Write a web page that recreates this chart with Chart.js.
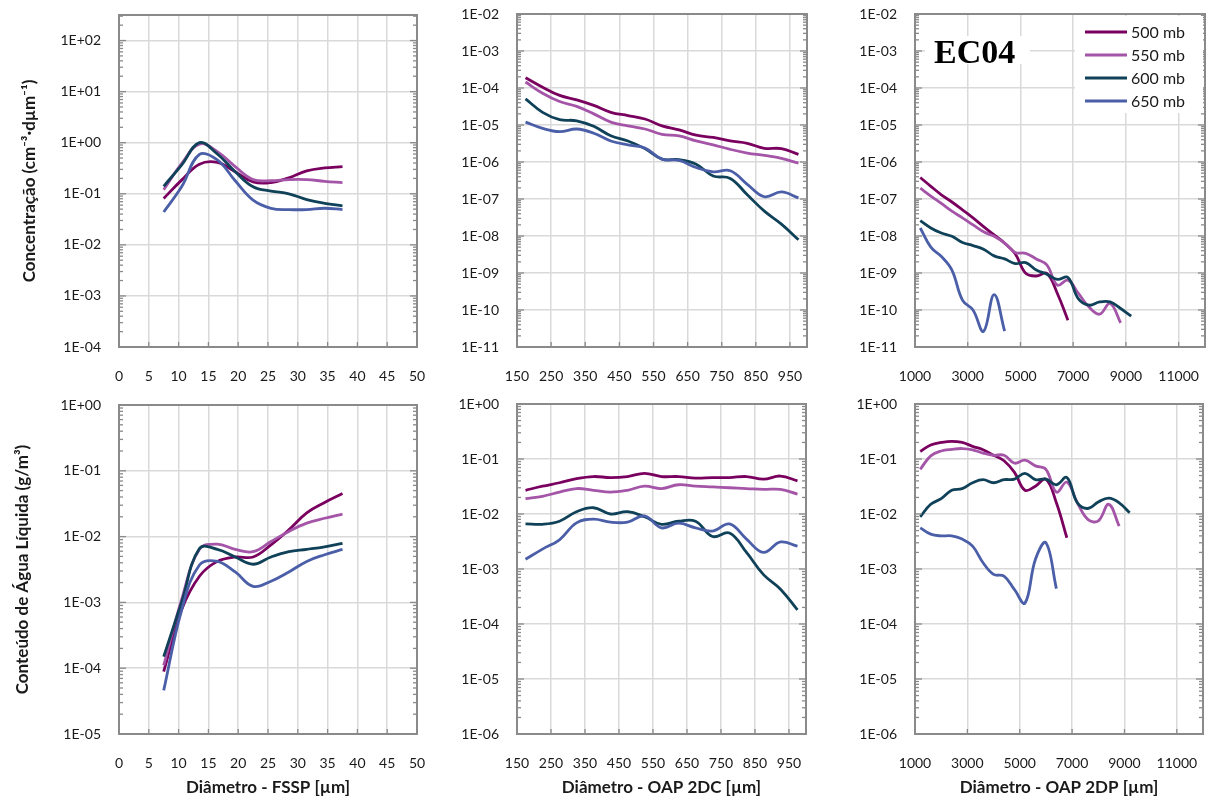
<!DOCTYPE html>
<html>
<head>
<meta charset="utf-8">
<script src="https://cdn.jsdelivr.net/npm/chart.js@4.4.1/dist/chart.umd.min.js"></script>
<style>
  body { margin: 0; background: #fff; width: 1213px; height: 800px; position: relative; overflow: hidden; }
  canvas { position: absolute; }
</style>
</head>
<body>
<canvas id="c1" width="430" height="395" style="left:0;top:0"></canvas>
<canvas id="c2" width="390" height="395" style="left:430px;top:0"></canvas>
<canvas id="c3" width="393" height="395" style="left:820px;top:0"></canvas>
<canvas id="c4" width="430" height="405" style="left:0;top:395px"></canvas>
<canvas id="c5" width="390" height="405" style="left:430px;top:395px"></canvas>
<canvas id="c6" width="393" height="405" style="left:820px;top:395px"></canvas>
<script>
// dados (EC04)
const pressureLabels = ['500 mb', '550 mb', '600 mb', '650 mb'];
const seriesColors = ['#7a0060', '#a455a8', '#0f4159', '#4b5ea8'];

// FSSP
const diamFSSP = [7.5, 10.5, 13.5, 16.5, 19.5, 22.5, 25.5, 28.5, 31.5, 34.5, 37.5];
const concFSSP500 = [0.081, 0.185, 0.38, 0.41, 0.27, 0.17, 0.165, 0.205, 0.28, 0.32, 0.34];
const concFSSP550 = [0.12, 0.39, 0.94, 0.67, 0.34, 0.19, 0.18, 0.19, 0.19, 0.175, 0.165];
const concFSSP600 = [0.14, 0.365, 1.0, 0.6, 0.27, 0.137, 0.113, 0.1, 0.077, 0.065, 0.058];
const concFSSP650 = [0.044, 0.137, 0.59, 0.46, 0.18, 0.075, 0.052, 0.049, 0.049, 0.052, 0.049];
const lwcFSSP500 = [8.9e-5, 7.7e-4, 2.5e-3, 4.2e-3, 4.9e-3, 4.9e-3, 7.5e-3, 1.27e-2, 2.3e-2, 3.3e-2, 4.5e-2];
const lwcFSSP550 = [1.1e-4, 1.1e-3, 6.4e-3, 7.7e-3, 6.4e-3, 5.9e-3, 8.4e-3, 1.2e-2, 1.6e-2, 1.9e-2, 2.2e-2];
const lwcFSSP600 = [1.5e-4, 1.0e-3, 6.6e-3, 6.4e-3, 4.9e-3, 3.8e-3, 4.9e-3, 5.9e-3, 6.4e-3, 7.0e-3, 7.9e-3];
const lwcFSSP650 = [4.6e-5, 7.6e-4, 3.7e-3, 4.2e-3, 2.9e-3, 1.75e-3, 2.1e-3, 2.9e-3, 4.2e-3, 5.3e-3, 6.4e-3];

// OAP 2DC
const diam2DC = [175, 225, 275, 325, 375, 425, 475, 525, 575, 625, 675, 725, 775, 825, 875, 925, 975];
const conc2DC500 = [1.9e-4, 1.05e-4, 6.3e-5, 4.8e-5, 3.4e-5, 2.2e-5, 1.8e-5, 1.45e-5, 9.5e-6, 7.4e-6, 5.3e-6, 4.6e-6, 3.7e-6, 3.2e-6, 2.35e-6, 2.3e-6, 1.6e-6];
const conc2DC550 = [1.45e-4, 7.2e-5, 4.3e-5, 3.2e-5, 2.0e-5, 1.2e-5, 9.5e-6, 7.8e-6, 5.6e-6, 5.1e-6, 3.7e-6, 2.9e-6, 2.2e-6, 1.75e-6, 1.5e-6, 1.25e-6, 9.3e-7];
const conc2DC600 = [5.1e-5, 2.2e-5, 1.4e-5, 1.3e-5, 9.2e-6, 5.1e-6, 3.7e-6, 2.3e-6, 1.2e-6, 1.15e-6, 8.7e-7, 4.2e-7, 3.6e-7, 1.3e-7, 4.7e-8, 2.1e-8, 7.9e-9];
const conc2DC650 = [1.2e-5, 8.1e-6, 6.6e-6, 7.8e-6, 6.0e-6, 3.7e-6, 2.9e-6, 2.4e-6, 1.2e-6, 1.1e-6, 7.1e-7, 5.4e-7, 5.8e-7, 2.5e-7, 1.15e-7, 1.55e-7, 1.07e-7];
const lwc2DC500 = [2.7e-2, 3.2e-2, 3.7e-2, 4.4e-2, 4.8e-2, 4.6e-2, 4.8e-2, 5.5e-2, 4.8e-2, 4.8e-2, 4.5e-2, 4.6e-2, 4.6e-2, 4.8e-2, 4.3e-2, 4.9e-2, 4.0e-2];
const lwc2DC550 = [1.9e-2, 2.1e-2, 2.5e-2, 2.9e-2, 2.7e-2, 2.5e-2, 2.7e-2, 3.2e-2, 2.9e-2, 3.4e-2, 3.2e-2, 3.1e-2, 3.0e-2, 2.9e-2, 2.8e-2, 2.8e-2, 2.3e-2];
const lwc2DC600 = [6.6e-3, 6.5e-3, 7.4e-3, 1.1e-2, 1.3e-2, 1.0e-2, 1.1e-2, 8.9e-3, 6.5e-3, 7.4e-3, 7.4e-3, 3.9e-3, 4.5e-3, 2.0e-3, 7.9e-4, 4.3e-4, 1.8e-4];
const lwc2DC650 = [1.5e-3, 2.3e-3, 3.4e-3, 6.9e-3, 8.1e-3, 7.1e-3, 7.1e-3, 9.2e-3, 5.6e-3, 6.8e-3, 5.6e-3, 4.9e-3, 6.6e-3, 3.5e-3, 2.0e-3, 3.1e-3, 2.6e-3];

// OAP 2DP (null = sem dado)
const diam2DP = [1200, 1600, 2000, 2400, 2800, 3200, 3600, 4000, 4400, 4800, 5200, 5600, 6000, 6400, 6800, 7200, 7600, 8000, 8400, 8800, 9200];
const conc2DP500 = [3.8e-7, 2.2e-7, 1.3e-7, 8.3e-8, 5.1e-8, 3.1e-8, 1.8e-8, 1.07e-8, 6.4e-9, 3.3e-9, 9.8e-10, 8.3e-10, 9.8e-10, 2.8e-10, 5.3e-11, null, null, null, null, null, null];
const conc2DP550 = [1.96e-7, 1.2e-7, 7.6e-8, 4.7e-8, 3.1e-8, 2.0e-8, 1.3e-8, 9.8e-9, 6.4e-9, 3.6e-9, 3.4e-9, 2.4e-9, 1.65e-9, 4.7e-10, 6.4e-10, 2.8e-10, 1.2e-10, 7.7e-11, 1.5e-10, 4.5e-11, null];
const conc2DP600 = [2.6e-8, 1.65e-8, 1.2e-8, 9.8e-9, 6.7e-9, 5.5e-9, 4.4e-9, 2.9e-9, 2.4e-9, 1.8e-9, 1.9e-9, 1.2e-9, 9.3e-10, 6.7e-10, 7.6e-10, 2.0e-10, 1.35e-10, 1.65e-10, 1.65e-10, 1.1e-10, 6.8e-11];
const conc2DP650 = [1.65e-8, 5.0e-9, 2.8e-9, 1.2e-9, 1.85e-10, 1.0e-10, 2.65e-11, 2.6e-10, 2.7e-11, null, null, null, null, null, null, null, null, null, null, null, null];
const lwc2DP500 = [0.137, 0.18, 0.2, 0.21, 0.2, 0.17, 0.147, 0.117, 0.093, 0.057, 0.027, 0.032, 0.043, 0.016, 0.0037, null, null, null, null, null, null];
const lwc2DP550 = [0.065, 0.114, 0.14, 0.15, 0.155, 0.147, 0.128, 0.117, 0.117, 0.084, 0.095, 0.075, 0.065, 0.025, 0.038, 0.016, 0.008, 0.0075, 0.015, 0.006, null];
const lwc2DP600 = [0.0089, 0.015, 0.019, 0.027, 0.029, 0.037, 0.042, 0.037, 0.042, 0.043, 0.055, 0.042, 0.043, 0.034, 0.046, 0.016, 0.0126, 0.0165, 0.0195, 0.016, 0.0105];
const lwc2DP650 = [0.0056, 0.0043, 0.004, 0.004, 0.0035, 0.0026, 0.0013, 8e-4, 7.4e-4, 4.2e-4, 2.4e-4, 1.5e-3, 3.0e-3, 4.4e-4, null, null, null, null, null, null, null];

// eixos
const xTicksFSSP = [0, 5, 10, 15, 20, 25, 30, 35, 40, 45, 50];
const xTicks2DC = [150, 250, 350, 450, 550, 650, 750, 850, 950, 1000];
const xTicks2DP = [1000, 3000, 5000, 7000, 9000, 11000, 12000];

const FONT = 'Lato, "Open Sans", sans-serif';

// formato do Excel: 1E+02, 1E-04 ...
const fmtExp = (v) => {
    const e = Math.round(Math.log10(v));
    return '1E' + (e < 0 ? '-' : '+') + String(Math.abs(e)).padStart(2, '0');
};

const makeSets = (xs, series) => series.map((vals, i) => ({
    label: pressureLabels[i],
    data: xs.map((x, j) => ({ x: x, y: vals[j] })).filter(p => p.y !== null),
    borderColor: seriesColors[i],
    backgroundColor: seriesColors[i],
    borderWidth: 2.8,
    pointRadius: 0,
    tension: 0.4,
    fill: false,
    order: 3 - i
}));

// moldura, marcas menores e maiores (como no Excel)
const framePlugin = {
    id: 'frame',
    afterDatasetsDraw(chart) {
        const { ctx, chartArea: a, scales } = chart;
        const y = scales.y, x = scales.x;
        const line = (x1, y1, x2, y2) => { ctx.beginPath(); ctx.moveTo(x1, y1); ctx.lineTo(x2, y2); ctx.stroke(); };
        ctx.save();
        ctx.strokeStyle = '#8a8a8a';
        ctx.lineWidth = 1.3;
        const lo = Math.floor(Math.log10(y.min)), hi = Math.ceil(Math.log10(y.max));
        for (let e = lo; e <= hi; e++) {
            for (let k = 1; k <= 9; k++) {
                const v = k * Math.pow(10, e);
                if (v < y.min * 0.999 || v > y.max * 1.001) continue;
                const py = y.getPixelForValue(v);
                const len = k === 1 ? 7 : 4;
                line(a.left, py, a.left + len, py);
                line(a.right, py, a.right - len, py);
            }
        }
        x.ticks.forEach(t => {
            const px = x.getPixelForValue(t.value);
            line(px, a.bottom, px, a.bottom - 5);
        });
        ctx.lineWidth = 2;
        ctx.strokeRect(a.left, a.top, a.right - a.left, a.bottom - a.top);
        ctx.restore();
    }
};

// legenda e rótulo do voo dentro do painel superior direito
const legendPlugin = {
    id: 'boxLegend',
    afterDraw(chart) {
        if (!chart.options.plugins.boxLegend || !chart.options.plugins.boxLegend.show) return;
        const ctx = chart.ctx;
        ctx.save();
        ctx.fillStyle = '#fff';
        ctx.fillRect(255, 16, 128, 97);
        ctx.fillRect(105, 36, 105, 28);
        chart.data.datasets.forEach((ds, i) => {
            const yy = 32 + i * 23;
            ctx.strokeStyle = ds.borderColor;
            ctx.lineWidth = 3;
            ctx.beginPath(); ctx.moveTo(265, yy); ctx.lineTo(307, yy); ctx.stroke();
            ctx.fillStyle = '#1a1a1a';
            ctx.font = '16px ' + FONT;
            ctx.textBaseline = 'middle';
            ctx.fillText(ds.label, 311, yy + 1);
        });
        ctx.fillStyle = '#000';
        ctx.font = 'bold 34px "Liberation Serif", "DejaVu Serif", serif';
        ctx.textBaseline = 'alphabetic';
        ctx.fillText('EC04', 114, 63);
        ctx.restore();
    }
};

const makeChart = (id, cfg) => {
    const el = document.getElementById(id);
    return new Chart(el, {
        type: 'line',
        data: { datasets: makeSets(cfg.xs, cfg.series) },
        plugins: [framePlugin, legendPlugin],
        options: {
            responsive: false,
            animation: false,
            layout: { padding: { top: cfg.padTop, right: cfg.padRight, left: 0, bottom: 0 } },
            plugins: {
                legend: { display: false },
                tooltip: { enabled: false },
                boxLegend: { show: !!cfg.legend }
            },
            scales: {
                x: {
                    type: 'linear',
                    min: cfg.xTicks[0],
                    max: cfg.xTicks[cfg.xTicks.length - 1],
                    afterBuildTicks: (s) => { s.ticks = cfg.xTicks.map(v => ({ value: v })); },
                    afterFit: (s) => { s.height = cfg.xHeight; s.paddingLeft = 0; s.paddingRight = 0; },
                    grid: { color: '#d9d9d9', lineWidth: 1.5, drawTicks: false },
                    border: { display: false },
                    ticks: {
                        padding: 21,
                        maxRotation: 0,
                        autoSkip: false,
                        color: '#1a1a1a',
                        font: { family: FONT, size: 14 },
                        callback: (v) => (v === cfg.xHide ? '' : String(v))
                    },
                    title: cfg.xTitle ? {
                        display: true,
                        text: cfg.xTitle,
                        color: '#1a1a1a',
                        font: { family: FONT, size: 17, weight: 'bold' },
                        padding: { top: 0, bottom: 2 }
                    } : { display: false }
                },
                y: {
                    type: 'logarithmic',
                    min: cfg.yMin,
                    max: cfg.yMax,
                    afterBuildTicks: (s) => {
                        const t = [];
                        for (let e = Math.ceil(Math.log10(cfg.yMin) - 1e-9); e <= Math.floor(Math.log10(cfg.yMax) + 1e-9); e++) {
                            t.push({ value: Math.pow(10, e) });
                        }
                        s.ticks = t;
                    },
                    afterFit: (s) => { s.width = cfg.yWidth; s.paddingTop = 0; s.paddingBottom = 0; },
                    grid: { color: '#d9d9d9', lineWidth: 1.5, drawTicks: false },
                    border: { display: false },
                    ticks: {
                        padding: 18,
                        autoSkip: false,
                        color: '#1a1a1a',
                        font: { family: FONT, size: 14 },
                        callback: (v) => fmtExp(v)
                    },
                    title: cfg.yTitle ? {
                        display: true,
                        text: cfg.yTitle,
                        color: '#1a1a1a',
                        font: { family: FONT, size: 17, weight: 'bold' },
                        padding: { top: cfg.yTitlePad, bottom: 0 }
                    } : { display: false }
                }
            }
        }
    });
};

// linha de cima: concentração
makeChart('c1', {
    xs: diamFSSP, series: [concFSSP500, concFSSP550, concFSSP600, concFSSP650],
    xTicks: xTicksFSSP, yMin: 1e-4, yMax: Math.pow(10, 2.5),
    yWidth: 119, padTop: 15, padRight: 13, xHeight: 48,
    yTitle: 'Concentração (cm⁻³·dµm⁻¹)', yTitlePad: 19
});
makeChart('c2', {
    xs: diam2DC, series: [conc2DC500, conc2DC550, conc2DC600, conc2DC650],
    xTicks: xTicks2DC, xHide: 1000, yMin: 1e-11, yMax: 1e-2,
    yWidth: 87, padTop: 14, padRight: 13, xHeight: 48
});
makeChart('c3', {
    xs: diam2DP, series: [conc2DP500, conc2DP550, conc2DP600, conc2DP650],
    xTicks: xTicks2DP, xHide: 12000, yMin: 1e-11, yMax: 1e-2,
    yWidth: 95, padTop: 14, padRight: 8, xHeight: 48, legend: true
});

// linha de baixo: conteúdo de água líquida
makeChart('c4', {
    xs: diamFSSP, series: [lwcFSSP500, lwcFSSP550, lwcFSSP600, lwcFSSP650],
    xTicks: xTicksFSSP, yMin: 1e-5, yMax: 1,
    yWidth: 119, padTop: 10, padRight: 13, xHeight: 66,
    yTitle: 'Conteúdo de Água Líquida (g/m³)', yTitlePad: 12,
    xTitle: 'Diâmetro - FSSP [µm]'
});
makeChart('c5', {
    xs: diam2DC, series: [lwc2DC500, lwc2DC550, lwc2DC600, lwc2DC650],
    xTicks: xTicks2DC, xHide: 1000, yMin: 1e-6, yMax: 1,
    yWidth: 87, padTop: 9, padRight: 14, xHeight: 66,
    xTitle: 'Diâmetro - OAP 2DC [µm]'
});
makeChart('c6', {
    xs: diam2DP, series: [lwc2DP500, lwc2DP550, lwc2DP600, lwc2DP650],
    xTicks: xTicks2DP, xHide: 12000, yMin: 1e-6, yMax: 1,
    yWidth: 95, padTop: 9, padRight: 10, xHeight: 66,
    xTitle: 'Diâmetro - OAP 2DP [µm]'
});
</script>
</body>
</html>
